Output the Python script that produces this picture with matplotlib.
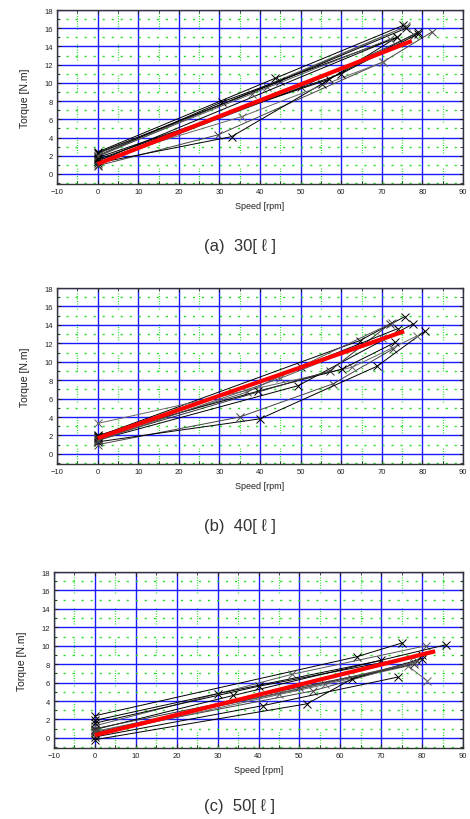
import matplotlib
matplotlib.use("Agg")
import matplotlib.pyplot as plt
from matplotlib.ticker import MultipleLocator

plt.rcParams['font.family'] = ['Liberation Sans', 'DejaVu Sans']

# ---------------- data ----------------
captions = ["(a)  30[ ℓ ]", "(b)  40[ ℓ ]", "(c)  50[ ℓ ]"]

# panel (a) 30 l : trials (speed, torque)
a_speed = [
    [0, 43.7, 75.2],
    [0, 41.7, 76.0, 0],
    [0, 57.0, 79.0],
    [0, 29.7, 70.3, 82.4],
    [0, 33.0, 55.3, 73.7],
    [0, 35.5, 70.3],
    [0, 30.6, 73.7, 0],
    [0, 50.0, 78.0],
    [0, 45.0, 76.0],
    [0, 38.0, 72.0],
    [0, 60.0, 79.0],
]
a_torque = [
    [2.4, 10.5, 16.3],
    [2.2, 9.6, 16.2, 1.9],
    [1.8, 10.4, 15.6],
    [0.9, 4.3, 12.3, 15.6],
    [1.2, 4.1, 9.9, 15.0],
    [1.5, 6.3, 12.3],
    [2.0, 7.9, 15.0, 1.4],
    [1.0, 9.5, 15.3],
    [2.3, 10.2, 16.0],
    [2.0, 8.8, 14.8],
    [1.6, 11.0, 15.4],
]
a_fit_speed = [0, 77.4]
a_fit_torque = [1.1, 14.6]

# panel (b) 40 l
b_speed = [
    [0, 64.6, 75.7],
    [0, 36.8, 72.5],
    [0, 49.4, 77.7],
    [0, 35.0, 58.0, 72.8],
    [0, 40.0, 68.8, 80.6],
    [0, 62.7, 78.7],
    [0, 39.5, 60.2, 73.3],
    [0, 57.2, 72.0],
    [0, 50.0, 74.0],
    [0, 45.0, 70.0],
]
b_torque = [
    [1.9, 12.3, 14.9],
    [1.7, 6.7, 14.2],
    [1.5, 7.4, 14.1],
    [1.0, 4.0, 7.6, 11.4],
    [1.3, 3.8, 9.5, 13.3],
    [3.3, 9.4, 12.8],
    [2.0, 6.8, 9.2, 12.1],
    [1.6, 9.0, 14.1],
    [1.8, 9.4, 13.6],
    [1.4, 8.2, 12.6],
]
b_fit_speed = [0, 75.5]
b_fit_torque = [1.7, 13.3]

# panel (c) 50 l
c_speed = [
    [0, 64.0, 75.1],
    [0, 48.2, 81.0],
    [0, 33.8, 85.8],
    [0, 53.3, 78.7],
    [0, 41.1, 74.1],
    [0, 56.3, 76.6, 81.2],
    [0, 51.9, 62.9, 80.0],
    [0, 50.0, 78.0, 0],
    [0, 40.0, 80.0],
    [0, 45.0, 78.0],
    [0, 30.0, 70.0],
]
c_torque = [
    [2.4, 8.8, 10.3],
    [1.3, 6.9, 10.0],
    [0.9, 4.6, 10.1],
    [0.5, 5.1, 8.3],
    [0.1, 3.5, 6.6],
    [0.3, 5.8, 7.8, 6.2],
    [-0.2, 3.7, 6.4, 8.6],
    [1.0, 5.5, 8.0, 0.6],
    [1.6, 5.6, 9.0],
    [0.7, 4.8, 8.2],
    [1.9, 4.8, 8.4],
]
c_fit_speed = [0, 83.2]
c_fit_torque = [0.3, 9.4]

panels = [
    (a_speed, a_torque, a_fit_speed, a_fit_torque),
    (b_speed, b_torque, b_fit_speed, b_fit_torque),
    (c_speed, c_torque, c_fit_speed, c_fit_torque),
]

# ---------------- layout ----------------
W, H = 470, 820
fig = plt.figure(figsize=(W / 100, H / 100), dpi=100)

# (left, top, right, bottom) in pixels
boxes = [(57, 11, 463, 185), (57, 289, 463, 465), (54, 573, 463, 749)]
cap_y = [247, 526, 807]

line_colors = ['black', '#555555', 'black', '#444444', 'black', '#666666', 'black', '#333333']

for i, ((sx, ty, fsx, fty), (l, t, r, b)) in enumerate(zip(panels, boxes)):
    ax = fig.add_axes([l / W, 1 - b / H, (r - l) / W, (b - t) / H])
    ax.set_xlim(-10, 90)
    ax.set_ylim(-1.1, 18)

    ax.xaxis.set_major_locator(MultipleLocator(10))
    ax.yaxis.set_major_locator(MultipleLocator(2))
    ax.xaxis.set_minor_locator(MultipleLocator(5))
    ax.yaxis.set_minor_locator(MultipleLocator(1))

    # major grid blue
    ax.grid(which='major', color='#1a1aff', linewidth=1.0, linestyle='-', zorder=0)
    # minor grid green
    ax.grid(which='minor', axis='y', color='#22dd22', linewidth=1.0,
            linestyle=(0, (1.5, 5.0)), zorder=0)
    ax.grid(which='minor', axis='x', color='#22dd22', linewidth=0.9,
            linestyle=(0, (0.8, 1.2, 0.8, 1.2, 0.8, 1.2, 0.8, 1.2, 0.8, 1.2, 0.8, 1.2, 0.8, 12)),
            zorder=0)
    ax.set_axisbelow(True)

    for k, (xs, ys) in enumerate(zip(sx, ty)):
        ax.plot(xs, ys, color=line_colors[k % len(line_colors)], linewidth=0.7,
                marker='x', markersize=6, markeredgewidth=0.7, zorder=3)

    ax.plot(fsx, fty, color='#ff0000', linewidth=3.0, solid_capstyle='butt', zorder=4)

    ax.tick_params(which='both', direction='in', top=True, right=True,
                   labelsize=5.5, colors='#222222', pad=3)
    ax.tick_params(which='major', length=3, width=0.8)
    ax.tick_params(which='minor', length=2, width=0.6)
    for sp in ax.spines.values():
        sp.set_color('#333333')
        sp.set_linewidth(1.0)

    ax.set_xlabel('Speed [rpm]', fontsize=6.5, color='#222222', labelpad=4)
    ax.set_ylabel('Torque [N.m]', fontsize=7.5, color='#222222', labelpad=10)

    fig.text(0.5 + 5 / W, 1 - cap_y[i] / H, captions[i], ha='center', va='center',
             fontsize=12, color='#333333')

fig.savefig('out.png', dpi=100)
